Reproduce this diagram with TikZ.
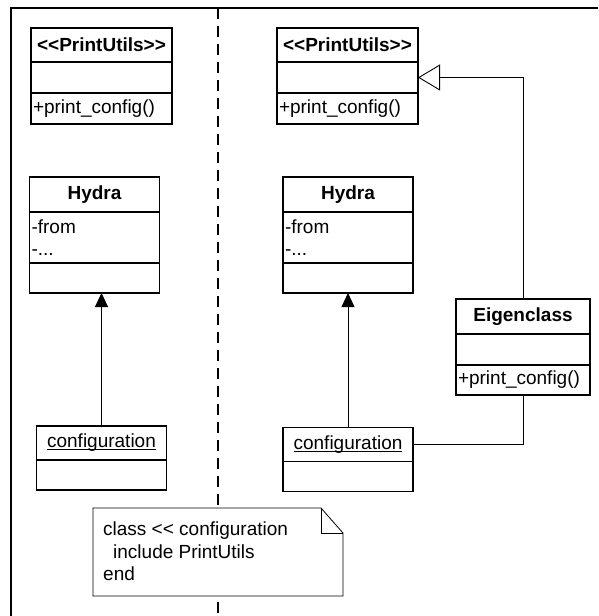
\documentclass[tikz,border=0pt]{standalone}
\usepackage{fontspec}
\setmainfont{Liberation Sans}
\usetikzlibrary{positioning,arrows.meta}

\newcommand{\umlsize}{\fontsize{19}{22.5}\selectfont}
% underline that sits just under the baseline
\newcommand{\objname}[1]{\setbox0\hbox{#1}\rlap{\rule[-2.5pt]{\wd0}{1pt}}\box0}

\tikzset{
	boxtitle/.style={draw, line width=1.3pt, outer sep=0pt, inner sep=0pt, font=\umlsize\bfseries, align=center},
	boxpart/.style={draw, line width=1.3pt, outer sep=0pt, inner xsep=2pt, inner ysep=0pt, font=\umlsize, align=left},
	link/.style={line width=0.9pt},
}

\begin{document}
\begin{tikzpicture}[x=1pt, y=-1pt, font=\umlsize]
	\useasboundingbox (0,0) rectangle (598,616);
	
	% Frame and the dashed divider
	\draw[line width=1.8pt] (11,616) -- (11,8) -- (598,8);
	\draw[line width=1.3pt, dash pattern=on 11pt off 7pt] (218,8) -- (218,616);
	
	% Both sides: PrintUtils, Hydra and configuration
	\foreach \s/\xp/\xh/\xc/\yc in {L/101.5/94.5/101.5/443, R/347.5/348/348/444.5} {
		% PrintUtils module
		\node[boxtitle, text width=141pt, minimum height=34pt] (pu\s) at (\xp,45) {<\kern0pt<PrintUtils>\kern0pt>};
		\node[boxpart, text width=137pt, minimum height=31pt, below=0pt of pu\s] (puattr\s) {};
		\node[boxpart, text width=137pt, minimum height=31pt, below=0pt of puattr\s] (puops\s) {+print\_config()};
		
		% Hydra class
		\node[boxtitle, text width=130pt, minimum height=35pt] (hydra\s) at (\xh,194.5) {Hydra};
		\node[boxpart, text width=126pt, minimum height=51pt, below=0pt of hydra\s] (hydraattr\s) {-from\\-...};
		\node[boxpart, text width=126pt, minimum height=30pt, below=0pt of hydraattr\s] (hydraops\s) {};
		
		% configuration object
		\node[boxtitle, text width=130pt, minimum height=34pt, font=\umlsize] (conf\s) at (\xc,\yc) {\objname{configuration}};
		\node[boxpart, text width=126pt, minimum height=30pt, below=0pt of conf\s] (confops\s) {};
	}
	
	% Eigenclass
	\node[boxtitle, text width=134pt, minimum height=35pt] (eigen) at (523,316.5) {Eigenclass};
	\node[boxpart, text width=130pt, minimum height=31pt, below=0pt of eigen] (eigenattr) {};
	\node[boxpart, text width=130pt, minimum height=30pt, below=0pt of eigenattr] (eigenops) {+print\_config()};
	
	% Connectors
	\draw[link, -{Triangle[width=13pt, length=14pt]}] (confL.north) -- (confL.north |- hydraopsL.south);
	\draw[link, -{Triangle[width=13pt, length=14pt]}] (confR.north) -- (hydraopsR.south);
	\draw[link, -{Triangle[open, width=26pt, length=22pt]}] (eigen.north) |- (puattrR.east);
	\draw[link] (confR.east) -| (eigenops.south);
	
	% Note with folded corner
	\draw[line width=0.8pt, fill=white] (93,508) -- (321,508) -- (343,533) -- (343,596) -- (93,596) -- cycle;
	\draw[line width=0.8pt] (321,508) -- (321,533) -- (343,533);
	\node[anchor=west, align=left, inner sep=0pt] (note) at (103,551.5) {class <\kern0pt< configuration\\\hspace*{10pt}include PrintUtils\\end};
	
\end{tikzpicture}
\end{document}
